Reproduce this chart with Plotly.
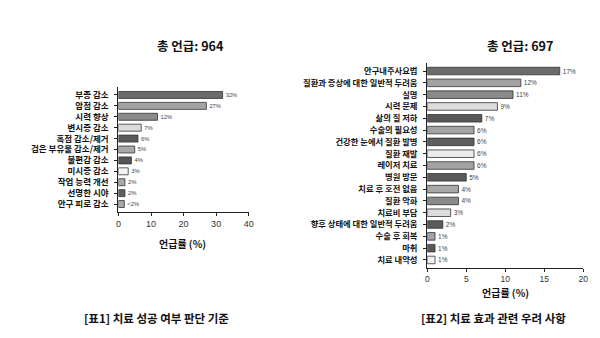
import plotly.graph_objects as go

# ---- data ----
left_categories = ["부종 감소", "암점 감소", "시력 향상", "변시증 감소", "흑점 감소/제거",
                   "검은 부유물 감소/제거", "불편감 감소", "미시증 감소", "작업 능력 개선",
                   "선명한 시야", "안구 피로 감소"]
left_values = [32, 27, 12, 7, 6, 5, 4, 3, 2, 2, 1.8]
left_labels = ["32%", "27%", "12%", "7%", "6%", "5%", "4%", "3%", "2%", "2%", "<2%"]

right_categories = ["안구내주사요법", "질환과 증상에 대한 일반적 두려움", "실명", "시력 문제",
                    "삶의 질 저하", "수술의 필요성", "건강한 눈에서 질환 발병", "질환 재발",
                    "레이저 치료", "병원 방문", "치료 후 호전 없음", "질환 악화", "치료비 부담",
                    "향후 상태에 대한 일반적 두려움", "수술 후 회복", "마취", "치료 내약성"]
right_values = [17, 12, 11, 9, 7, 6, 6, 6, 6, 5, 4, 4, 3, 2, 1, 1, 1]
right_labels = ["17%", "12%", "11%", "9%", "7%", "6%", "6%", "6%", "6%", "5%", "4%", "4%",
                "3%", "2%", "1%", "1%", "1%"]

left_colors = ["#6b6b6b", "#a3a3a3", "#8a8a8a", "#dcdcdc", "#5a5a5a", "#a8a8a8",
               "#555555", "#f4f4f4", "#a8a8a8", "#5e5e5e", "#a8a8a8"]
right_colors = ["#6b6b6b", "#a3a3a3", "#8a8a8a", "#dcdcdc", "#585858", "#a3a3a3",
                "#5e5e5e", "#ececec", "#a3a3a3", "#5a5a5a", "#a8a8a8", "#8a8a8a",
                "#dcdcdc", "#5a5a5a", "#a3a3a3", "#5a5a5a", "#f0f0f0"]

FONT = "Noto Sans CJK KR"
NUM = "Liberation Sans"
W, H = 600, 338

fig = go.Figure()

fig.add_trace(go.Bar(
    x=left_values, y=left_categories, orientation="h",
    marker=dict(color=left_colors, line=dict(color="#333333", width=0.8)),
    text=left_labels, textposition="outside", cliponaxis=False,
    textfont=dict(size=7.5, color="#444444", family=NUM),
    xaxis="x", yaxis="y", showlegend=False, hoverinfo="skip",
))
fig.add_trace(go.Bar(
    x=right_values, y=right_categories, orientation="h",
    marker=dict(color=right_colors, line=dict(color="#333333", width=0.8)),
    text=right_labels, textposition="outside", cliponaxis=False,
    textfont=dict(size=6.5, color="#444444", family=NUM),
    xaxis="x2", yaxis="y2", showlegend=False, hoverinfo="skip",
))

def px_x(p):
    return p / W

def px_y(p):
    return 1 - p / H

axis_common = dict(showgrid=False, zeroline=False, showline=True, linecolor="#222222",
                   linewidth=1.3, ticks="outside", ticklen=3, tickwidth=1.2,
                   tickcolor="#222222")

fig.update_layout(
    width=W, height=H, margin=dict(l=0, r=0, t=0, b=0),
    paper_bgcolor="white", plot_bgcolor="white",
    font=dict(family=FONT, color="#111111"),
    bargap=0.36,
    xaxis=dict(domain=[px_x(117), px_x(249)], range=[0, 40], tickvals=[0, 10, 20, 30, 40],
               anchor="y", tickfont=dict(size=9, color="#333333", family=NUM),
               **axis_common),
    yaxis=dict(domain=[px_y(212), px_y(87)], range=[10.73, -0.73], anchor="x",
               ticklabelstandoff=4,
               tickfont=dict(size=8.5, color="#111111", family=FONT, weight=700), **axis_common),
    xaxis2=dict(domain=[px_x(430), px_x(588)], range=[0, 20], tickvals=[0, 5, 10, 15, 20],
                anchor="y2", tickfont=dict(size=8.5, color="#333333", family=NUM),
                **axis_common),
    yaxis2=dict(domain=[px_y(268), px_y(63)], range=[16.68, -0.68], anchor="x2",
                ticklabelstandoff=4,
                tickfont=dict(size=8.3, color="#111111", family=FONT, weight=700), **axis_common),
)

def ann(text, x, y, size, bold=True):
    fig.add_annotation(text=f"<b>{text}</b>" if bold else text, x=px_x(x), y=px_y(y),
                       xref="paper", yref="paper", showarrow=False,
                       font=dict(size=size, family=FONT, color="#111111"),
                       xanchor="center", yanchor="middle")

ann("총 언급: 964", 190, 45, 12.5)
ann("총 언급: 697", 524, 45, 12.5)
ann("언급률 (%)", 182, 243, 10)
ann("언급률 (%)", 509, 292, 10)
ann("[표1] 치료 성공 여부 판단 기준", 156, 318, 11.5)
ann("[표2] 치료 효과 관련 우려 사항", 497, 318, 11.5)

fig.write_html("out.html")
